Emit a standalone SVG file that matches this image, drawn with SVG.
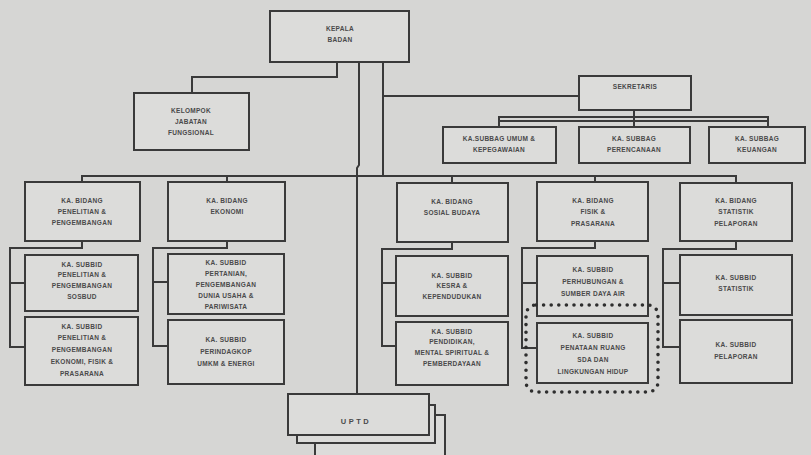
<svg xmlns="http://www.w3.org/2000/svg" width="811" height="455" viewBox="0 0 811 455">
  <style>
    .box { fill: #dcdcda; stroke: #3a3a3a; stroke-width: 2; }
    .ln { fill: none; stroke: #3a3a3a; stroke-width: 2; }
    .t { font-family: "Liberation Sans", Arial, sans-serif; font-size: 6.5px; font-weight: bold; fill: #4a4a4a; text-anchor: middle; letter-spacing: 0.3px; }
    .dots { fill: none; stroke: #2e2e2e; stroke-width: 3.6; stroke-linecap: round; stroke-dasharray: 0 7.6; }
  </style>
  <rect width="811" height="455" fill="#d6d6d4"/>

  <!-- connectors -->
  <g id="connectors">
    <!-- main trunk -->
    <path class="ln" d="M359 62 V165 L357 168 V394"/>
    <path class="ln" d="M383 62 V176"/>
    <!-- functional group -->
    <path class="ln" d="M337 62 V77 H192 V93"/>
    <!-- secretary -->
    <path class="ln" d="M383 96 H579"/>
    <path class="ln" d="M634 110 V117"/>
    <path class="ln" d="M499 127 V117 H768 V127"/>
    <path class="ln" d="M499 121 H768" stroke-width="1.4"/>
    <path class="ln" d="M634 117 V127"/>
    <!-- divisions bar -->
    <path class="ln" d="M82 182 V176 H736 V182"/>
    <path class="ln" d="M227 176 V182"/>
    <path class="ln" d="M452 176 V182"/>
    <path class="ln" d="M595 176 V182"/>
    <!-- sub-division brackets -->
    <path class="ln" d="M82 241 V248 H10 V347 H25 M10 283 H25"/>
    <path class="ln" d="M227 241 V248 H153 V346 H168 M153 282 H168"/>
    <path class="ln" d="M452 242 V249 H382 V346 H396 M382 283 H396"/>
    <path class="ln" d="M595 241 V248 H522 V348 H537 M522 283 H537"/>
    <path class="ln" d="M736 241 V249 H663 V347 H680 M663 283 H680"/>
  </g>

  <g id="kepala">
    <rect class="box" x="270" y="11" width="139" height="51"/>
    <text class="t" x="340" y="31">KEPALA</text>
    <text class="t" x="340" y="42">BADAN</text>
  </g>

  <g id="kelompok">
    <rect class="box" x="134" y="93" width="115" height="57"/>
    <text class="t" x="191" y="113">KELOMPOK</text>
    <text class="t" x="191" y="124">JABATAN</text>
    <text class="t" x="191" y="135">FUNGSIONAL</text>
  </g>

  <g id="sekretaris">
    <rect class="box" x="579" y="76" width="112" height="34"/>
    <text class="t" x="635" y="89">SEKRETARIS</text>
  </g>

  <g id="subbag-umum">
    <rect class="box" x="443" y="127" width="113" height="36"/>
    <text class="t" x="499" y="141">KA.SUBBAG UMUM &amp;</text>
    <text class="t" x="499" y="152">KEPEGAWAIAN</text>
  </g>
  <g id="subbag-perencanaan">
    <rect class="box" x="579" y="127" width="111" height="36"/>
    <text class="t" x="634" y="141">KA. SUBBAG</text>
    <text class="t" x="634" y="152">PERENCANAAN</text>
  </g>
  <g id="subbag-keuangan">
    <rect class="box" x="709" y="127" width="96" height="36"/>
    <text class="t" x="757" y="141">KA. SUBBAG</text>
    <text class="t" x="757" y="152">KEUANGAN</text>
  </g>

  <!-- divisions -->
  <g id="bidang-litbang">
    <rect class="box" x="25" y="182" width="115" height="59"/>
    <text class="t" x="82" y="203">KA. BIDANG</text>
    <text class="t" x="82" y="214">PENELITIAN &amp;</text>
    <text class="t" x="82" y="225">PENGEMBANGAN</text>
  </g>
  <g id="bidang-ekonomi">
    <rect class="box" x="168" y="182" width="117" height="59"/>
    <text class="t" x="227" y="203">KA. BIDANG</text>
    <text class="t" x="227" y="214">EKONOMI</text>
  </g>
  <g id="bidang-sosbud">
    <rect class="box" x="397" y="183" width="111" height="59"/>
    <text class="t" x="452" y="204">KA. BIDANG</text>
    <text class="t" x="452" y="215">SOSIAL BUDAYA</text>
  </g>
  <g id="bidang-fisik">
    <rect class="box" x="537" y="182" width="111" height="59"/>
    <text class="t" x="593" y="203">KA. BIDANG</text>
    <text class="t" x="593" y="214">FISIK &amp;</text>
    <text class="t" x="593" y="226">PRASARANA</text>
  </g>
  <g id="bidang-statistik">
    <rect class="box" x="680" y="183" width="112" height="58"/>
    <text class="t" x="736" y="203">KA. BIDANG</text>
    <text class="t" x="736" y="214">STATISTIK</text>
    <text class="t" x="736" y="226">PELAPORAN</text>
  </g>

  <!-- sub-divisions -->
  <g id="subbid-sosbud">
    <rect class="box" x="25" y="255" width="113" height="56"/>
    <text class="t" x="82" y="267">KA. SUBBID</text>
    <text class="t" x="82" y="277">PENELITIAN &amp;</text>
    <text class="t" x="82" y="288">PENGEMBANGAN</text>
    <text class="t" x="82" y="299">SOSBUD</text>
  </g>
  <g id="subbid-ekofis">
    <rect class="box" x="25" y="317" width="113" height="68"/>
    <text class="t" x="82" y="329">KA. SUBBID</text>
    <text class="t" x="82" y="340">PENELITIAN &amp;</text>
    <text class="t" x="82" y="352">PENGEMBANGAN</text>
    <text class="t" x="82" y="364">EKONOMI, FISIK &amp;</text>
    <text class="t" x="82" y="376">PRASARANA</text>
  </g>
  <g id="subbid-pertanian">
    <rect class="box" x="168" y="254" width="116" height="60"/>
    <text class="t" x="226" y="265">KA. SUBBID</text>
    <text class="t" x="226" y="276">PERTANIAN,</text>
    <text class="t" x="226" y="287">PENGEMBANGAN</text>
    <text class="t" x="226" y="298">DUNIA USAHA &amp;</text>
    <text class="t" x="226" y="309">PARIWISATA</text>
  </g>
  <g id="subbid-perindagkop">
    <rect class="box" x="168" y="320" width="116" height="64"/>
    <text class="t" x="226" y="342">KA. SUBBID</text>
    <text class="t" x="226" y="354">PERINDAGKOP</text>
    <text class="t" x="226" y="366">UMKM &amp; ENERGI</text>
  </g>
  <g id="subbid-kesra">
    <rect class="box" x="396" y="256" width="112" height="60"/>
    <text class="t" x="452" y="278">KA. SUBBID</text>
    <text class="t" x="452" y="288">KESRA &amp;</text>
    <text class="t" x="452" y="299">KEPENDUDUKAN</text>
  </g>
  <g id="subbid-pendidikan">
    <rect class="box" x="396" y="322" width="112" height="63"/>
    <text class="t" x="452" y="334">KA. SUBBID</text>
    <text class="t" x="452" y="344">PENDIDIKAN,</text>
    <text class="t" x="452" y="355">MENTAL SPIRITUAL &amp;</text>
    <text class="t" x="452" y="366">PEMBERDAYAAN</text>
  </g>
  <g id="subbid-perhubungan">
    <rect class="box" x="537" y="256" width="111" height="60"/>
    <text class="t" x="593" y="272">KA. SUBBID</text>
    <text class="t" x="593" y="284">PERHUBUNGAN &amp;</text>
    <text class="t" x="593" y="296">SUMBER DAYA AIR</text>
  </g>
  <g id="subbid-penataan">
    <rect class="box" x="537" y="323" width="111" height="60"/>
    <text class="t" x="593" y="338">KA. SUBBID</text>
    <text class="t" x="593" y="350">PENATAAN RUANG</text>
    <text class="t" x="593" y="362">SDA DAN</text>
    <text class="t" x="593" y="374">LINGKUNGAN HIDUP</text>
    <rect class="dots" x="526" y="305" width="132" height="87" rx="10"/>
  </g>
  <g id="subbid-statistik">
    <rect class="box" x="680" y="255" width="112" height="60"/>
    <text class="t" x="736" y="280">KA. SUBBID</text>
    <text class="t" x="736" y="291">STATISTIK</text>
  </g>
  <g id="subbid-pelaporan">
    <rect class="box" x="680" y="320" width="112" height="63"/>
    <text class="t" x="736" y="347">KA. SUBBID</text>
    <text class="t" x="736" y="359">PELAPORAN</text>
  </g>

  <!-- technical units (stacked) -->
  <g id="uptd">
    <rect class="box" x="315" y="415" width="130" height="50"/>
    <rect class="box" x="297" y="405" width="138" height="38"/>
    <rect class="box" x="288" y="394" width="141" height="41"/>
    <text class="t" x="356" y="424" style="font-size:7.5px; letter-spacing:2.5px;">UPTD</text>
  </g>
</svg>
